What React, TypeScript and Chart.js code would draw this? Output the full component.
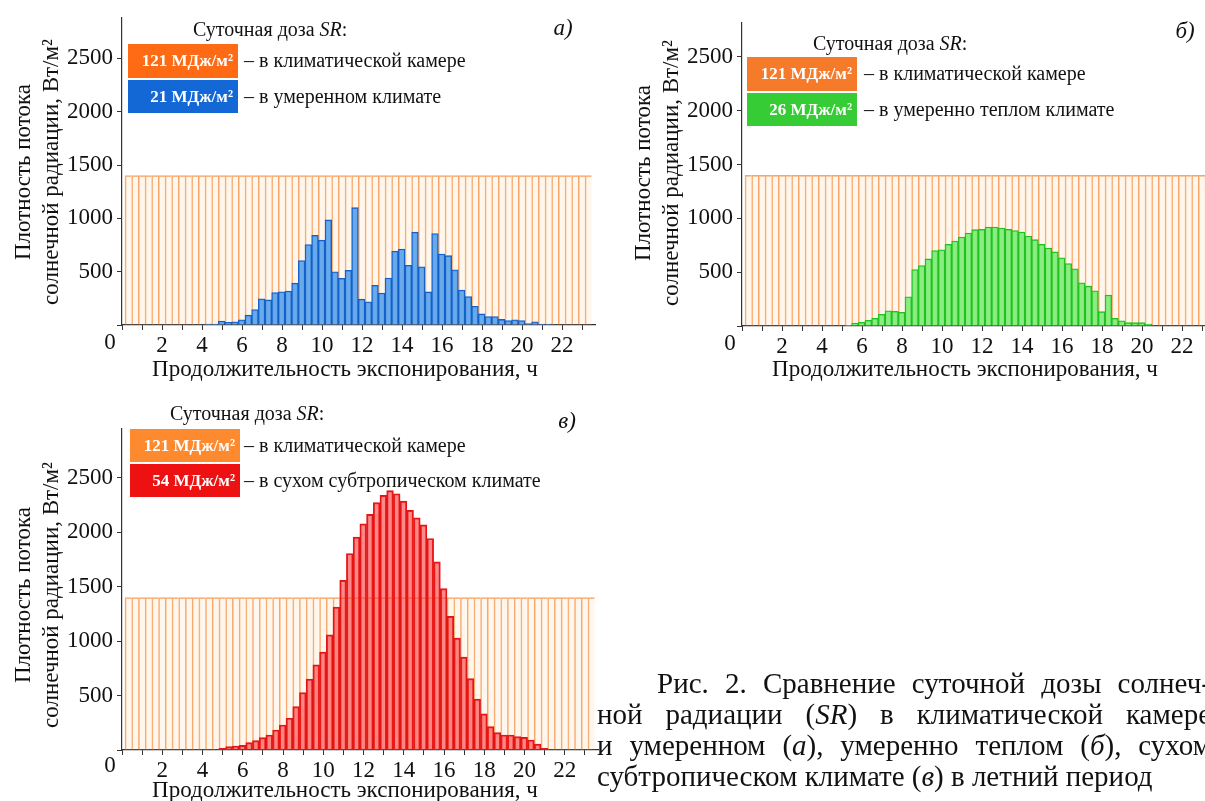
import { useEffect, useRef } from 'react';
import { Chart, registerables } from 'chart.js';

Chart.register(...registerables);

const SERIF = '"Liberation Serif", "Times New Roman", serif';

// Exposure time is split into 20-minute bins; the first bin edge sits slightly right of 0 h.
const BIN_HOURS = 1 / 3;
const BIN_SHIFT = 0.15;
const X_MAX_HOURS = 23.65;

// Axis ticks: hour marks (labels on even hours), irradiance every 500 W/m²
const HOUR_TICKS = [0, 1, 2, 3, 4, 5, 6, 7, 8, 9, 10, 11, 12, 13, 14, 15, 16, 17, 18, 19, 20, 21, 22, 23];
const IRRADIANCE_TICKS = [0, 500, 1000, 1500, 2000, 2500];

// Climatic chamber: constant irradiance in every bin (121 MJ/m² per day)
const CHAMBER_LEVEL = [
  1400, 1400, 1400, 1400, 1400, 1400, 1400, 1400, 1400, 1400,
  1400, 1400, 1400, 1400, 1400, 1400, 1400, 1400, 1400, 1400,
  1400, 1400, 1400, 1400, 1400, 1400, 1400, 1400, 1400, 1400,
  1400, 1400, 1400, 1400, 1400, 1400, 1400, 1400, 1400, 1400,
  1400, 1400, 1400, 1400, 1400, 1400, 1400, 1400, 1400, 1400,
  1400, 1400, 1400, 1400, 1400, 1400, 1400, 1400, 1400, 1400,
  1400, 1400, 1400, 1400, 1400, 1400, 1400, 1400, 1400, 1400,
];

// Temperate climate (21 MJ/m²), starting at bin 12
const TEMPERATE_FIRST_BIN = 12;
const TEMPERATE = [
  8, 8, 37, 25, 30, 49, 92, 145, 245, 235,
  305, 312, 318, 392, 605, 755, 840, 795, 985, 498,
  438, 512, 1100, 242, 218, 372, 300, 440, 692, 712,
  560, 870, 545, 310, 858, 665, 650, 518, 328, 266,
  176, 104, 80, 80, 52, 42, 48, 42, 14, 30,
  8, 8,
];

// Moderately warm climate (26 MJ/m²), starting at bin 15
const WARM_FIRST_BIN = 15;
const WARM = [
  6, 28, 34, 52, 71, 108, 142, 136, 127, 272,
  525, 562, 623, 700, 707, 759, 790, 827, 864, 895,
  898, 920, 920, 910, 898, 886, 873, 836, 802, 759,
  725, 688, 633, 580, 531, 401, 370, 327, 133, 287,
  71, 49, 31, 31, 31, 18,
];

// Dry subtropical climate (54 MJ/m²), starting at bin 14
const ARID_FIRST_BIN = 14;
const ARID = [
  15, 31, 37, 43, 68, 86, 114, 138, 184, 230,
  292, 399, 528, 651, 783, 900, 1059, 1314, 1560, 1806,
  1956, 2079, 2165, 2273, 2340, 2383, 2355, 2288, 2202, 2134,
  2070, 1944, 1729, 1483, 1228, 1029, 854, 657, 467, 332,
  215, 160, 138, 138, 123, 117, 92, 55, 15,
];

const X_TITLE = 'Продолжительность экспонирования, ч';
const Y_TITLE = ['Плотность потока', 'солнечной радиации, Вт/м²'];
const LEGEND_TITLE = ['Суточная доза ', 'SR', ':'];
const CHAMBER_DOSE = '121 МДж/м²';
const CHAMBER_LABEL = '– в климатической камере';

type Decor = {
  letter: [string, number, number];
  legendTitle: [number, number];
  boxX: number;
  boxW: number;
  boxes: { y: number; h: number; color: string; dose: string; label: string }[];
  labelX: number;
  tickDy: number;
  xTitleDy: number;
  yTitleDy: number;
};

type PanelCfg = {
  left: number;
  top: number;
  width: number;
  height: number;
  padTop: number;
  padRight: number;
  axisW: number;
  axisH: number;
  yMax: number;
  firstBin: number;
  values: number[];
  fill: string;
  stroke: string;
  decor: Decor;
};

const binPoints = (first: number, values: number[]) =>
  values.map((v, i) => ({ x: BIN_SHIFT + (first + i + 0.5) * BIN_HOURS, y: v }));

function makeDecor(d: Decor) {
  return {
    id: 'panelDecor',
    afterDraw(chart: Chart) {
      const ctx = chart.ctx;
      const ox = chart.chartArea.left;
      const oy = chart.chartArea.bottom;
      ctx.save();
      ctx.fillStyle = '#111';

      // shared origin label
      ctx.font = `23px ${SERIF}`;
      ctx.textAlign = 'center';
      ctx.textBaseline = 'middle';
      ctx.fillText('0', ox - 12, oy + d.tickDy);

      // x title
      ctx.textBaseline = 'alphabetic';
      ctx.fillText(X_TITLE, ox + 223, oy + d.xTitleDy);

      // y title, two rotated lines
      const yDx = [-92, -64];
      Y_TITLE.forEach((line, i) => {
        ctx.save();
        ctx.translate(ox + yDx[i], oy + d.yTitleDy);
        ctx.rotate(-Math.PI / 2);
        ctx.fillText(line, 0, 0);
        ctx.restore();
      });

      // panel letter
      ctx.font = `italic 23px ${SERIF}`;
      ctx.textBaseline = 'middle';
      ctx.fillText(d.letter[0], d.letter[1], d.letter[2]);

      // legend title with italic SR
      ctx.textAlign = 'left';
      let tx = d.legendTitle[0];
      const ty = d.legendTitle[1];
      LEGEND_TITLE.forEach((part, i) => {
        ctx.font = `${i === 1 ? 'italic ' : ''}20px ${SERIF}`;
        ctx.fillText(part, tx, ty);
        tx += ctx.measureText(part).width;
      });

      // legend boxes
      d.boxes.forEach((b) => {
        ctx.fillStyle = b.color;
        ctx.fillRect(d.boxX, b.y, d.boxW, b.h);
        ctx.fillStyle = '#fff';
        ctx.font = `bold 17px ${SERIF}`;
        ctx.textAlign = 'right';
        ctx.fillText(b.dose, d.boxX + d.boxW - 5, b.y + b.h / 2 + 1);
        ctx.fillStyle = '#111';
        ctx.font = `20px ${SERIF}`;
        ctx.textAlign = 'left';
        ctx.fillText(b.label, d.labelX, b.y + b.h / 2 + 1);
      });
      ctx.restore();
    },
  };
}

const PANELS: PanelCfg[] = [
  {
    left: 0, top: 0, width: 600, height: 390,
    padTop: 15, padRight: 5, axisW: 122, axisH: 65, yMax: 2880,
    firstBin: TEMPERATE_FIRST_BIN, values: TEMPERATE,
    fill: 'rgba(92,164,236,0.92)', stroke: '#1560c8',
    decor: {
      letter: ['а)', 563, 29],
      legendTitle: [193, 31],
      boxX: 128, boxW: 110,
      boxes: [
        { y: 44, h: 34, color: '#ff6a14', dose: CHAMBER_DOSE, label: CHAMBER_LABEL },
        { y: 80, h: 33, color: '#1468d6', dose: '21 МДж/м²', label: '– в умеренном климате' },
      ],
      labelX: 244, tickDy: 18, xTitleDy: 51, yTitleDy: -153,
    },
  },
  {
    left: 620, top: 0, width: 600, height: 390,
    padTop: 23, padRight: 5, axisW: 122, axisH: 64, yMax: 2815,
    firstBin: WARM_FIRST_BIN, values: WARM,
    fill: 'rgba(128,236,120,0.92)', stroke: '#1fc21f',
    decor: {
      letter: ['б)', 565, 32],
      legendTitle: [193, 45],
      boxX: 127, boxW: 110,
      boxes: [
        { y: 57, h: 34, color: '#f57b2b', dose: CHAMBER_DOSE, label: CHAMBER_LABEL },
        { y: 93, h: 33, color: '#35cc35', dose: '26 МДж/м²', label: '– в умеренно теплом климате' },
      ],
      labelX: 244, tickDy: 18, xTitleDy: 50, yTitleDy: -153,
    },
  },
  {
    left: 0, top: 400, width: 600, height: 401,
    padTop: 29, padRight: 2, axisW: 122, axisH: 51, yMax: 2950,
    firstBin: ARID_FIRST_BIN, values: ARID,
    fill: 'rgba(255,40,40,0.55)', stroke: '#e01515',
    decor: {
      letter: ['в)', 567, 22],
      legendTitle: [170, 15],
      boxX: 130, boxW: 110,
      boxes: [
        { y: 29, h: 33, color: '#fd8a2e', dose: CHAMBER_DOSE, label: CHAMBER_LABEL },
        { y: 64, h: 33, color: '#ee1111', dose: '54 МДж/м²', label: '– в сухом субтропическом климате' },
      ],
      labelX: 244, tickDy: 16, xTitleDy: 47, yTitleDy: -155,
    },
  },
];

function Panel({ cfg }: { cfg: PanelCfg }) {
  const ref = useRef<HTMLCanvasElement>(null);

  useEffect(() => {
    const axisGrid = {
      display: true,
      drawOnChartArea: false,
      drawTicks: true,
      tickLength: 5,
      color: '#333',
      lineWidth: 1,
      offset: false,
    };
    const chart = new Chart(ref.current as HTMLCanvasElement, {
      type: 'bar',
      data: {
        datasets: [
          {
            data: binPoints(cfg.firstBin, cfg.values),
            backgroundColor: cfg.fill,
            borderColor: cfg.stroke,
            borderWidth: 1.3,
            grouped: false,
            barPercentage: 1,
            categoryPercentage: 1,
            order: 0,
          } as any,
          {
            data: binPoints(0, CHAMBER_LEVEL),
            backgroundColor: 'rgba(255,228,196,0.3)',
            borderColor: '#f6a86c',
            borderWidth: { top: 1, left: 1, right: 0, bottom: 0 },
            borderSkipped: false,
            grouped: false,
            barPercentage: 1,
            categoryPercentage: 1,
            order: 1,
          } as any,
        ],
      },
      options: {
        responsive: false,
        animation: false,
        events: [],
        layout: { padding: { top: cfg.padTop, right: cfg.padRight, left: 0, bottom: 0 } },
        plugins: { legend: { display: false }, tooltip: { enabled: false } },
        scales: {
          x: {
            type: 'linear',
            min: 0,
            max: X_MAX_HOURS,
            offset: false,
            afterFit: (s: any) => { s.height = cfg.axisH; },
            afterBuildTicks: (s: any) => { s.ticks = HOUR_TICKS.map((v) => ({ value: v })); },
            grid: axisGrid,
            border: { display: true, color: '#333', width: 1.2 },
            ticks: {
              autoSkip: false,
              maxRotation: 0,
              padding: 2,
              color: '#111',
              font: { family: SERIF, size: 23 },
              callback: (v: any) => (v > 0 && v % 2 === 0 ? String(v) : ''),
            },
          },
          y: {
            type: 'linear',
            min: 0,
            max: cfg.yMax,
            afterFit: (s: any) => { s.width = cfg.axisW; },
            afterBuildTicks: (s: any) => { s.ticks = IRRADIANCE_TICKS.map((v) => ({ value: v })); },
            grid: axisGrid,
            border: { display: true, color: '#333', width: 1.2 },
            ticks: {
              autoSkip: false,
              padding: 4,
              color: '#111',
              font: { family: SERIF, size: 23 },
              callback: (v: any) => (v > 0 ? String(v) : ''),
            },
          },
        },
      } as any,
      plugins: [makeDecor(cfg.decor)],
    });
    return () => chart.destroy();
  }, [cfg]);

  return (
    <canvas
      ref={ref}
      width={cfg.width}
      height={cfg.height}
      style={{ position: 'absolute', left: cfg.left, top: cfg.top, width: cfg.width, height: cfg.height }}
    />
  );
}

const lineStyle: any = {
  whiteSpace: 'nowrap',
  textAlign: 'justify',
  textAlignLast: 'justify',
};

export default function App() {
  return (
    <div
      style={{
        position: 'fixed',
        left: 0,
        top: 0,
        width: 1205,
        height: 801,
        overflow: 'hidden',
        background: '#fff',
      }}
    >
      {PANELS.map((p, i) => (
        <Panel key={i} cfg={p} />
      ))}
      <div
        style={{
          position: 'absolute',
          left: 597,
          top: 668,
          width: 614,
          fontFamily: SERIF,
          fontSize: 29,
          lineHeight: '31px',
          color: '#111',
        }}
      >
        <div style={{ ...lineStyle, paddingLeft: 60 }}>Рис. 2. Сравнение суточной дозы солнеч-</div>
        <div style={lineStyle}>
          ной радиации (<i>SR</i>) в климатической камере
        </div>
        <div style={lineStyle}>
          и умеренном (<i>а</i>), умеренно теплом (<i>б</i>), сухом
        </div>
        <div style={{ whiteSpace: 'nowrap' }}>
          субтропическом климате (<i>в</i>) в летний период
        </div>
      </div>
    </div>
  );
}
